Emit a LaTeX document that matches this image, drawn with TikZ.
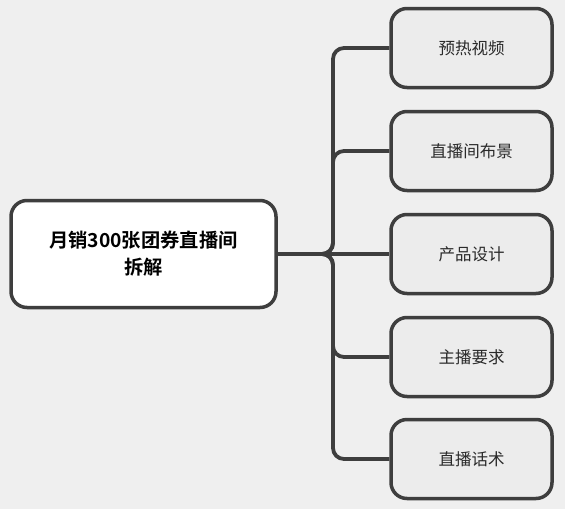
\documentclass[tikz,border=0pt]{standalone}
\usepackage{fontspec}
\setmainfont{Noto Sans CJK SC}[BoldFont={Noto Sans CJK SC Bold}]
\definecolor{bg}{HTML}{EFEFEF}
\definecolor{bd}{HTML}{3E3E3E}
\definecolor{cf}{HTML}{ECECEC}
\definecolor{tx}{HTML}{2A2A2A}
\begin{document}
\begin{tikzpicture}[x=1pt,y=-1pt,
  rootbox/.style={draw=bd,line width=3.5pt,rounded corners=16pt,fill=white,minimum width=265pt,minimum height=107pt,align=center,font=\fontsize{19.3}{27}\selectfont\bfseries,text=black},
  childbox/.style={draw=bd,line width=3.5pt,rounded corners=16pt,fill=cf,minimum width=161pt,minimum height=79pt,font=\fontsize{16.5}{20}\selectfont,text=tx},
  link/.style={draw=bd,line width=3.8pt,rounded corners=11pt}]
\fill[bg] (0,0) rectangle (565,509);
\useasboundingbox (0,0) rectangle (565,509);
\coordinate (j) at (333,254);
\node[rootbox] (root) at (143.5,254) {月销300张团券直播间\\拆解};
\node[childbox] (c1) at (471.5,48) {预热视频};
\node[childbox] (c2) at (471.5,151) {直播间布景};
\node[childbox] (c3) at (471.5,254) {产品设计};
\node[childbox] (c4) at (471.5,357) {主播要求};
\node[childbox] (c5) at (471.5,459) {直播话术};
\path[link] (root.east) -- (j) |- (c1.west);
\path[link] (root.east) -- (j) |- (c2.west);
\path[link] (root.east) -- (j) |- (c4.west);
\path[link] (root.east) -- (j) |- (c5.west);
\path[link] (root.east) -- (c3.west);
\end{tikzpicture}
\end{document}
